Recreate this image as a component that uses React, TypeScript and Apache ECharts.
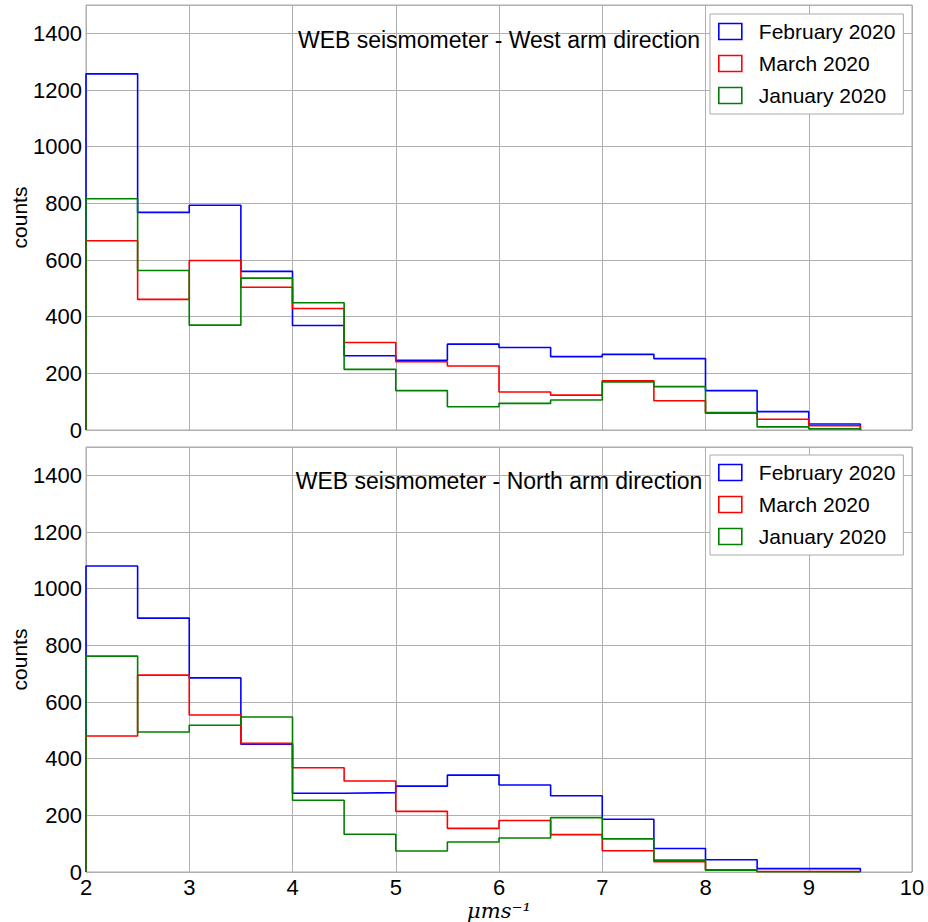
import React, { useEffect, useRef } from "react";
import * as echarts from "echarts";

const binEdges = [2, 2.5, 3, 3.5, 4, 4.5, 5, 5.5, 6, 6.5, 7, 7.5, 8, 8.5, 9, 9.5];
const seriesNames = ["February 2020", "March 2020", "January 2020"];
const seriesColors = ["#0000ff", "#ff0000", "#008000"];

// West arm (top panel)
const westFeb = [1257, 768, 793, 560, 369, 262, 246, 303, 291, 259, 267, 252, 139, 65, 21];
const westMar = [668, 461, 598, 504, 429, 309, 241, 226, 134, 123, 174, 103, 59, 38, 15];
const westJan = [816, 563, 370, 536, 449, 214, 139, 82, 94, 106, 170, 153, 62, 11, 4];

// North arm (bottom panel)
const northFeb = [1080, 896, 685, 451, 278, 280, 303, 342, 307, 269, 186, 83, 43, 12, 12];
const northMar = [480, 695, 554, 454, 368, 321, 214, 154, 182, 132, 75, 36, 8, 2, 2];
const northJan = [762, 494, 518, 547, 253, 133, 74, 106, 120, 192, 117, 42, 6, 1, 0];

const panelTitles = ["WEB seismometer - West arm direction", "WEB seismometer - North arm direction"];
const xTicks = { min: 2, max: 10, interval: 1 };
const yTicks = { min: 0, max: 1500, interval: 200 };

const FONT = "Liberation Sans";

function stepData(counts: number[]) {
  const pts: [number, number][] = [[binEdges[0], 0]];
  counts.forEach((c, i) => pts.push([binEdges[i], c]));
  pts.push([binEdges[binEdges.length - 1], 0]);
  return pts;
}

export default function App() {
  const ref = useRef<HTMLDivElement>(null);
  useEffect(() => {
    document.body.style.margin = "0";
    const chart = echarts.init(ref.current!, undefined, { renderer: "svg" });
    const grids = [
      { left: 86, top: 5, width: 826, height: 425 },
      { left: 86, top: 447, width: 826, height: 425 },
    ];
    const panels = [
      [westFeb, westMar, westJan],
      [northFeb, northMar, northJan],
    ];
    const series: any[] = [];
    panels.forEach((p, gi) => {
      p.forEach((counts, si) => {
        series.push({
          type: "line",
          name: seriesNames[si],
          xAxisIndex: gi,
          yAxisIndex: gi,
          step: "end",
          showSymbol: false,
          symbol: "none",
          data: stepData(counts),
          lineStyle: { color: seriesColors[si], width: 1.6 },
          itemStyle: { color: seriesColors[si] },
          z: 3 + si,
        });
      });
    });
    const legendTops = [14, 455];
    const option: any = {
      animation: false,
      backgroundColor: "#ffffff",
      grid: grids.map((g) => ({
        ...g,
        outerBoundsMode: "none",
        containLabel: false,
        show: true,
        borderColor: "#aaaaaa",
        borderWidth: 1,
        backgroundColor: "transparent",
      })),
      xAxis: [0, 1].map((i) => ({
        type: "value",
        gridIndex: i,
        min: xTicks.min,
        max: xTicks.max,
        interval: xTicks.interval,
        axisLine: { show: false },
        axisTick: { show: false },
        axisLabel: {
          show: i === 1,
          color: "#000",
          fontSize: 22,
          fontFamily: FONT,
          margin: 4,
          formatter: (v: number) => String(v),
        },
        splitLine: { show: true, lineStyle: { color: "#b0b0b0", width: 1 } },
        name: i === 1 ? "μms⁻¹" : "",
        nameLocation: "middle",
        nameGap: 28,
        nameTextStyle: {
          color: "#000",
          fontSize: 21,
          fontFamily: "DejaVu Serif",
          fontStyle: "italic",
        },
      })),
      yAxis: [0, 1].map((i) => ({
        type: "value",
        gridIndex: i,
        min: yTicks.min,
        max: yTicks.max,
        interval: yTicks.interval,
        axisLine: { show: false },
        axisTick: { show: false },
        axisLabel: {
          color: "#000",
          fontSize: 22,
          fontFamily: FONT,
          margin: 4,
          showMaxLabel: false,
          formatter: (v: number) => String(v),
        },
        splitLine: { show: true, lineStyle: { color: "#b0b0b0", width: 1 } },
        name: "counts",
        nameLocation: "middle",
        nameMoveOverlap: false,
        nameGap: 56,
        nameTextStyle: { color: "#000", fontSize: 21, fontFamily: FONT },
      })),
      legend: legendTops.map((t) => ({
        orient: "vertical",
        left: 710,
        top: t,
        padding: [7, 8, 8, 8],
        itemWidth: 23,
        itemHeight: 16,
        itemGap: 11,
        icon: "rect",
        borderColor: "#aaaaaa",
        borderWidth: 1,
        borderRadius: 0,
        backgroundColor: "#ffffff",
        selectedMode: false,
        textStyle: { color: "#000", fontSize: 21, fontFamily: FONT, padding: [0, 0, 0, 12] },
        data: seriesNames.map((n, si) => ({
          name: n,
          icon: "rect",
          itemStyle: { color: "transparent", borderColor: seriesColors[si], borderWidth: 1.6 },
        })),
      })),
      graphic: panelTitles.map((t, i) => ({
        type: "text",
        x: 499,
        y: i === 0 ? 40 : 481,
        z: 10,
        style: {
          text: t,
          fill: "#000",
          font: `23px "${FONT}"`,
          textAlign: "center",
          textVerticalAlign: "middle",
        },
      })),
      series,
    };
    chart.setOption(option);
    return () => chart.dispose();
  }, []);
  return (
    <div
      ref={ref}
      style={{ position: "absolute", left: 0, top: 0, width: 928, height: 922 }}
    />
  );
}
